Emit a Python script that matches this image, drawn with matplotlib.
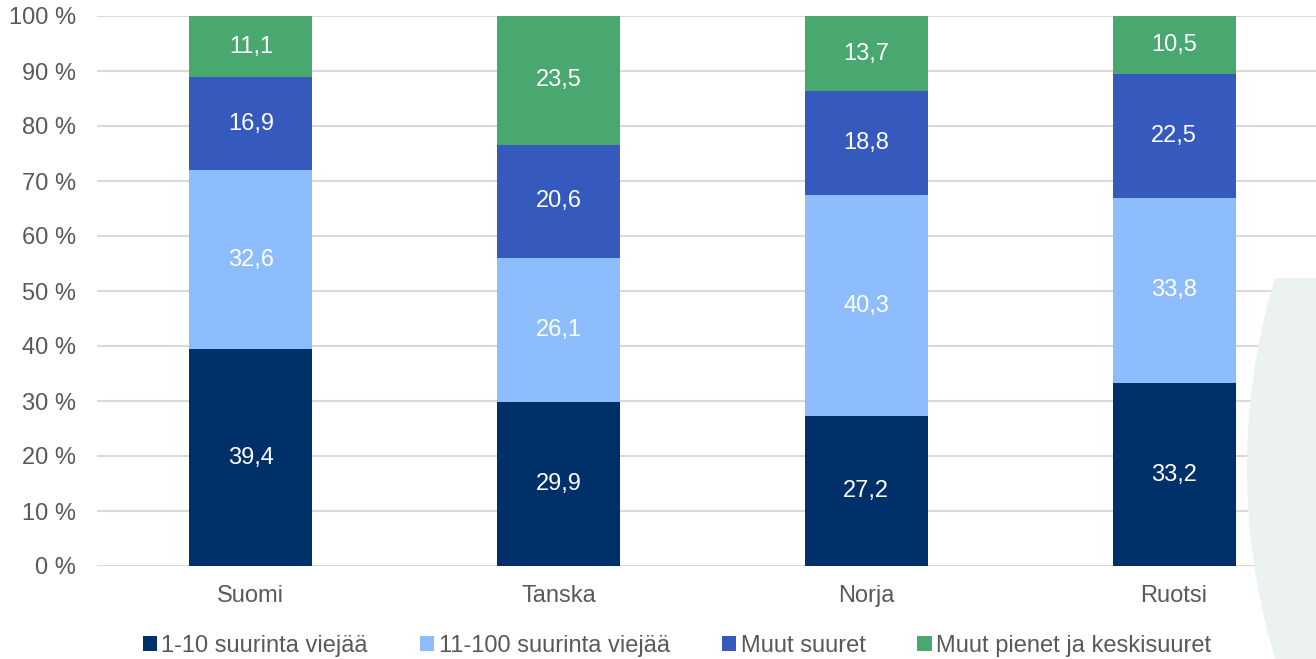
import numpy as np
import matplotlib.pyplot as plt
from matplotlib.patches import Ellipse, Rectangle

plt.rcParams['font.family'] = ['Liberation Sans', 'DejaVu Sans']

countries = ["Suomi", "Tanska", "Norja", "Ruotsi"]
series_names = ["1-10 suurinta viejää", "11-100 suurinta viejää",
                "Muut suuret", "Muut pienet ja keskisuuret"]
top10 = [39.4, 29.9, 27.2, 33.2]
top100 = [32.6, 26.1, 40.3, 33.8]
other_large = [16.9, 20.6, 18.8, 22.5]
small_medium = [11.1, 23.5, 13.7, 10.5]

colors = ["#00306A", "#8EBDFD", "#3559BC", "#48A870"]
text_gray = "#595959"

fig = plt.figure(figsize=(13.16, 6.59), dpi=100)

# decorative background shape on the right
bg = Ellipse((1905 / 1316, 1 - 468 / 659), 2 * 658 / 1316, 2 * 658 / 659,
             transform=fig.transFigure, facecolor="#ECF1F1", edgecolor="none", zorder=0)
clip = Rectangle((0, 0), 1, (659 - 278) / 659, transform=fig.transFigure)
fig.patches.append(bg)
bg.set_clip_path(clip)

ax = fig.add_axes([97 / 1316, 1 - 566 / 659, 1 - 97 / 1316, (566 - 16) / 659])
ax.set_facecolor("none")

x = np.arange(len(countries))
width = 0.4
bottom = np.zeros(len(countries))
for vals, name, col in zip([top10, top100, other_large, small_medium], series_names, colors):
    vals = np.array(vals)
    bars = ax.bar(x, vals, width, bottom=bottom, color=col, label=name, zorder=3)
    for xi, b, v in zip(x, bottom, vals):
        ax.text(xi, b + v / 2, f"{v:.1f}".replace(".", ","), ha="center", va="center",
                color="white", fontsize=17, zorder=4)
    bottom += vals

ax.set_ylim(0, 100)
ax.set_xlim(-0.5, 3 + (1316 - 1174) / 308)
ax.set_yticks(np.arange(0, 101, 10))
ax.set_yticklabels([f"{v} %" for v in range(0, 101, 10)])
ax.set_xticks(x)
ax.set_xticklabels(countries)
ax.tick_params(axis="both", length=0, labelsize=17, labelcolor=text_gray)
ax.tick_params(axis="x", pad=14)
ax.tick_params(axis="y", pad=15)
ax.grid(axis="y", color="#D9D9D9", linewidth=1.5, zorder=1)
ax.set_axisbelow(True)
for s in ax.spines.values():
    s.set_visible(False)

handles, labels = ax.get_legend_handles_labels()
fig.legend(handles, labels, loc="center", bbox_to_anchor=(677 / 1316, 1 - 646 / 659),
           ncol=4, frameon=False, fontsize=17, labelcolor=text_gray,
           handlelength=0.6, handleheight=0.6, handletextpad=0.2, columnspacing=2.2)

fig.savefig("out.png", dpi=100)
